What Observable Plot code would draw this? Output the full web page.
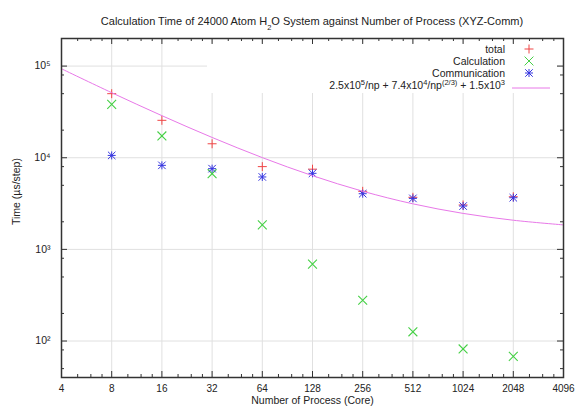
<!DOCTYPE html>
<html><head><meta charset="utf-8">
<script src="https://cdn.jsdelivr.net/npm/d3@7"></script>
<script src="https://cdn.jsdelivr.net/npm/@observablehq/plot@0.6"></script>
<style>body{margin:0;background:#fff} svg{display:block}</style>
</head><body><div id="chart"></div>
<script>
// ---- data ----
const processes = [8, 16, 32, 64, 128, 256, 512, 1024, 2048];
const total = [5.0e4, 2.56e4, 1.42e4, 8.0e3, 7.5e3, 4.3e3, 3.7e3, 3.05e3, 3.75e3];
const calculation = [3.82e4, 1.73e4, 6.7e3, 1.85e3, 690, 279, 126, 82, 68];
const communication = [1.06e4, 8.26e3, 7.6e3, 6.17e3, 6.76e3, 4.05e3, 3.6e3, 2.97e3, 3.66e3];
// fitted curve at each octave
const fitProcesses = [4, 8, 16, 32, 64, 128, 256, 512, 1024, 2048, 4096];
const fitTime = [93400, 51250, 28780, 16650, 10030, 6370, 4310, 3140, 2470, 2080, 1850];
// axis ticks
const xTickValues = [4, 8, 16, 32, 64, 128, 256, 512, 1024, 2048, 4096];
const yTickValues = [1e2, 1e3, 1e4, 1e5];
const xMinorFactors = [1.25, 1.5, 1.75];
const yMinorFactors = [2, 5, 8];
const seriesNames = ["total", "Calculation", "Communication"];
const titleText = ["Calculation Time of 24000 Atom H", "2", "O System against Number of Process (XYZ-Comm)"];
const xLabel = "Number of Process (Core)";
const yLabel = "Time (\u00b5s/step)";

// ---- layout ----
const W = 579, H = 410;
const mL = 61, mR = 16, mT = 38, mB = 33;
const FW = W - mL - mR, FH = H - mT - mB;
const colors = {total: "#f04545", calc: "#45d045", comm: "#3535e0", fit: "#e878e8"};
const font = "'Liberation Sans', Arial, Helvetica, sans-serif";

const rows = processes.map((p, i) => ({p, total: total[i], calc: calculation[i], comm: communication[i]}));
const fit = fitProcesses.map((p, i) => ({p, t: fitTime[i]}));
const xMinor = xTickValues.slice(0, -1).flatMap(v => xMinorFactors.map(f => v * f));
const yMinor = [10, ...yTickValues].flatMap(v => yMinorFactors.map(f => v * f)).filter(v => v > 40 && v < 2e5);
const supDigits = {"0":"\u2070","1":"\u00b9","2":"\u00b2","3":"\u00b3","4":"\u2074","5":"\u2075","6":"\u2076","7":"\u2077","8":"\u2078","9":"\u2079"};

const sym = {
  plus: {symbol: "plus", r: 3.0},
  times: {symbol: "times", r: 4.1},
  starPlus: {symbol: "plus", r: 2.7},
  starTimes: {symbol: "times", r: 3.5}
};

const chart = Plot.plot({
  width: W, height: H,
  marginLeft: mL, marginRight: mR, marginTop: mT, marginBottom: mB,
  style: {fontFamily: font, fontSize: "10px", background: "#fff", color: "#222"},
  x: {type: "log", base: 2, domain: [4, 4096]},
  y: {type: "log", domain: [40, 2e5]},
  marks: [
    Plot.ruleX(xTickValues.slice(1, -1), {x: d => d, stroke: "#e0e0e0", strokeWidth: 1}),
    Plot.ruleY(yTickValues, {y: d => d, stroke: "#e0e0e0", strokeWidth: 1}),
    // inward ticks
    Plot.tickX(xTickValues, {x: d => d, insetTop: FH - 6, stroke: "#333"}),
    Plot.tickX(xTickValues, {x: d => d, insetBottom: FH - 6, stroke: "#333"}),
    Plot.tickX(xMinor, {x: d => d, insetTop: FH - 3, stroke: "#333"}),
    Plot.tickX(xMinor, {x: d => d, insetBottom: FH - 3, stroke: "#333"}),
    Plot.tickY(yTickValues, {y: d => d, insetRight: FW - 6, stroke: "#333"}),
    Plot.tickY(yTickValues, {y: d => d, insetLeft: FW - 6, stroke: "#333"}),
    Plot.tickY(yMinor, {y: d => d, insetRight: FW - 3, stroke: "#333"}),
    Plot.tickY(yMinor, {y: d => d, insetLeft: FW - 3, stroke: "#333"}),
    // axes labels
    Plot.axisX({ticks: xTickValues, tickFormat: d => String(d), tickSize: 0, tickPadding: 7, label: null, fontSize: 10}),
    Plot.axisY({ticks: yTickValues, tickFormat: d => "10" + String(Math.round(Math.log10(d))).split("").map(c => supDigits[c]).join(""), tickSize: 0, tickPadding: 11, label: null, fontSize: 10.5}),
    Plot.text([xLabel], {text: d => d, frameAnchor: "bottom", dy: 26, fontSize: 10.5}),
    Plot.text([yLabel], {text: d => d, frameAnchor: "left", dx: -45, dy: 17, rotate: -90, fontSize: 10.5}),
    // data
    Plot.dot(rows, {x: "p", y: "total", ...sym.plus, stroke: colors.total, fill: "none", strokeWidth: 1}),
    Plot.dot(rows, {x: "p", y: "calc", ...sym.times, stroke: colors.calc, fill: "none", strokeWidth: 1.1}),
    Plot.dot(rows, {x: "p", y: "comm", ...sym.starPlus, stroke: colors.comm, fill: "none", strokeWidth: 1}),
    Plot.dot(rows, {x: "p", y: "comm", ...sym.starTimes, stroke: colors.comm, fill: "none", strokeWidth: 1}),
    Plot.line(fit, {x: "p", y: "t", stroke: colors.fit, strokeWidth: 1, curve: "catmull-rom"}),
    Plot.frame({stroke: "#333", strokeWidth: 1.5})
  ]
});
document.getElementById("chart").appendChild(chart);

// ---- legend and title (non-data annotations) ----
const svg = d3.select(chart);
const ruleGroups = chart.querySelectorAll(':scope > g[aria-label="rule"]');
const bg = document.createElementNS("http://www.w3.org/2000/svg", "rect");
ruleGroups[ruleGroups.length - 1].after(bg);
d3.select(bg).attr("x", 207).attr("y", 43).attr("width", 350).attr("height", 50).attr("fill", "#fff");

const lg = svg.append("g").attr("font-family", font).attr("font-size", 10.5).attr("fill", "#222");
const textX = 505, symX = 529, rowY0 = 49, rowDY = 12;
const legendSyms = [
  [{s: d3.symbolPlus, r: sym.plus.r, c: colors.total}],
  [{s: d3.symbolTimes, r: sym.times.r, c: colors.calc}],
  [{s: d3.symbolPlus, r: sym.starPlus.r, c: colors.comm}, {s: d3.symbolTimes, r: sym.starTimes.r, c: colors.comm}]
];
seriesNames.forEach((name, i) => {
  const y = rowY0 + i * rowDY;
  lg.append("text").attr("x", textX).attr("y", y).attr("dy", "0.35em").attr("text-anchor", "end").text(name);
  legendSyms[i].forEach(o => {
    lg.append("path").attr("d", d3.symbol(o.s, Math.PI * o.r * o.r)()).attr("transform", `translate(${symX},${y})`)
      .attr("fill", "none").attr("stroke", o.c).attr("stroke-width", 1);
  });
});
const fy = rowY0 + 3 * rowDY;
const ft = lg.append("text").attr("x", textX).attr("y", fy).attr("dy", "0.35em").attr("text-anchor", "end");
const parts = [["2.5x10", 0], ["5", 1], ["/np + 7.4x10", 0], ["4", 1], ["/np", 0], ["(2/3)", 1], [" + 1.5x10", 0], ["3", 1]];
parts.forEach(([t, sup]) => {
  const ts = ft.append("tspan").text(t);
  if (sup) ts.attr("font-size", 7.5).attr("baseline-shift", "super");
});
lg.append("line").attr("x1", 512).attr("x2", 550).attr("y1", fy + 3).attr("y2", fy + 3)
  .attr("stroke", colors.fit).attr("stroke-width", 1);

const tt = svg.append("text").attr("x", mL + FW / 2).attr("y", 25).attr("text-anchor", "middle")
  .attr("font-family", font).attr("font-size", 11).attr("fill", "#222");
tt.append("tspan").text(titleText[0]);
tt.append("tspan").text(titleText[1]).attr("font-size", 7.5).attr("baseline-shift", "sub");
tt.append("tspan").text(titleText[2]);
</script>
</body></html>
